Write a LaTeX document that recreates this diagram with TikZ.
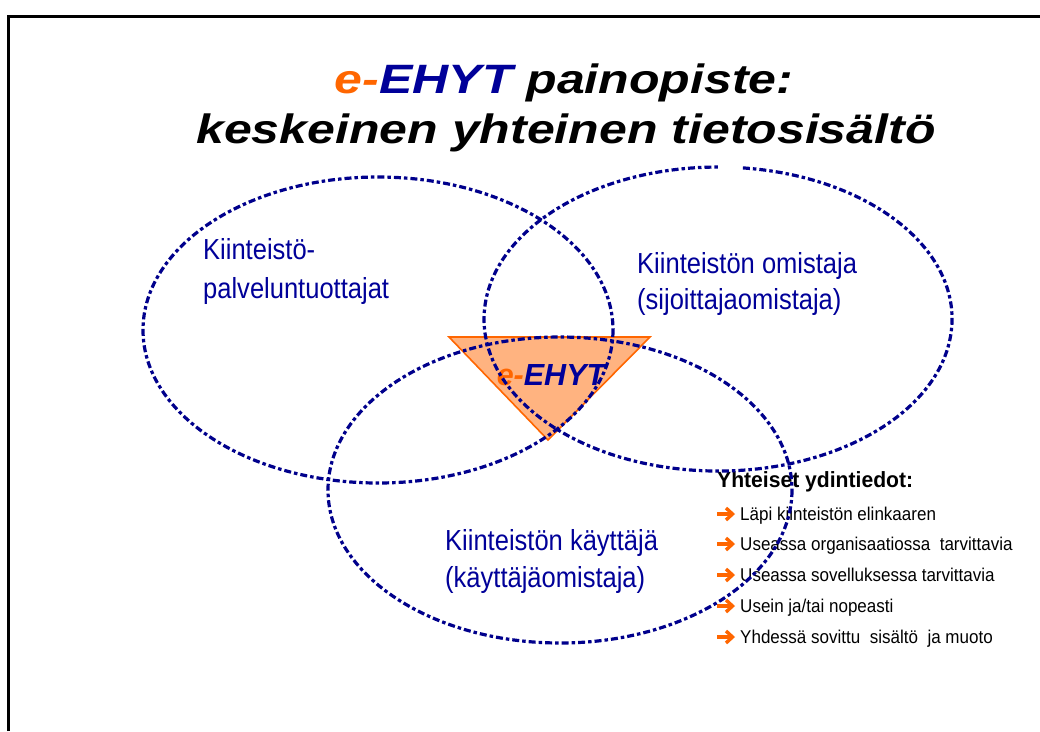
\documentclass[tikz,border=0pt]{standalone}
\usepackage{fontspec}
\setmainfont{Liberation Sans}
\newfontfamily\titlef[FakeStretch=1.22]{Liberation Sans}
\newfontfamily\narrowf[FakeStretch=0.88]{Liberation Sans}
\newfontfamily\bulletf[FakeStretch=0.92]{Liberation Sans}
\newfontfamily\headf[FakeStretch=0.96]{Liberation Sans}
\definecolor{eorange}{RGB}{255,102,0}
\definecolor{eblue}{RGB}{0,0,153}
\definecolor{navyline}{RGB}{0,0,140}
\definecolor{trifill}{RGB}{255,179,128}
\tikzset{
  venn/.style={draw=navyline, line width=3.2pt, dash pattern=on 7pt off 3pt on 3.5pt off 3pt},
  lbl/.style={anchor=base west, inner sep=0pt, text=eblue, font=\narrowf\fontsize{29}{35}\selectfont},
  ttl/.style={anchor=base, inner sep=0pt, font=\titlef\bfseries\itshape\fontsize{41}{48}\selectfont},
  bul/.style={anchor=base west, inner sep=0pt, font=\bulletf\fontsize{18.5}{22}\selectfont},
  bularr/.pic={
    \draw[eorange, line width=3.4pt] (0,0) -- (14,0);
    \draw[eorange, line width=3.4pt, line join=miter, miter limit=4] (9,-6) -- (15.5,0) -- (9,6);
  },
}
\begin{document}
\begin{tikzpicture}[x=1pt,y=-1pt]
\useasboundingbox[fill=white] (0,0) rectangle (1040,731);
% frame
\draw[line width=3pt] (8.5,731) -- (8.5,16.5) -- (1040,16.5);
% title
\node[ttl] (title1) at (564,93) {\textcolor{eorange}{e-}\textcolor{eblue}{EHYT} painopiste:};
\node[ttl] (title2) at (566,143) {keskeinen yhteinen tietosisältö};
% triangle
\coordinate (tl) at (449,337);
\coordinate (tr) at (650,337);
\coordinate (tb) at (548,440);
\fill[trifill] (tl) -- (tr) -- (tb) -- cycle;
\draw[eorange, line width=1.6pt, line join=miter] (tl) -- (tr) -- (tb) -- cycle;
\node[anchor=base, inner sep=0pt, font=\bfseries\itshape\fontsize{30.5}{36}\selectfont] (core) at (551,385) {\textcolor{eorange}{e-}\textcolor{eblue}{EHYT}};
% labels
\node[lbl] (l1a) at (203,259) {Kiinteistö-};
\node[lbl] (l1b) at (203,298) {palveluntuottajat};
\node[lbl] (l2a) at (637,273) {Kiinteistön omistaja};
\node[lbl] (l2b) at (637,309) {(sijoittajaomistaja)};
\node[lbl] (l3a) at (445,550) {Kiinteistön käyttäjä};
\node[lbl] (l3b) at (445,587) {(käyttäjäomistaja)};
% list
\node[anchor=base west, inner sep=0pt, font=\headf\bfseries\fontsize{22}{26}\selectfont] (yht) at (717,487) {Yhteiset ydintiedot:};
\pic at (717,514) {bularr};
\node[bul] (b1) at (740,520) {Läpi kiinteistön elinkaaren};
\pic at (717,544) {bularr};
\node[bul] (b2) at (740,550) {Useassa organisaatiossa\ \ tarvittavia};
\pic at (717,575) {bularr};
\node[bul] (b3) at (740,581) {Useassa sovelluksessa tarvittavia};
\pic at (717,606) {bularr};
\node[bul] (b4) at (740,612) {Usein ja/tai nopeasti};
\pic at (717,637) {bularr};
\node[bul] (b5) at (740,643) {Yhdessä sovittu\ \ sisältö\ \ ja muoto};
% ellipses
\draw[venn] (378,330) ellipse[x radius=235, y radius=153];
\draw[venn] (560,490) ellipse[x radius=232, y radius=153];
\draw[venn] (742.9,167.9) arc[start angle=276.1, end angle=630, x radius=234, y radius=152];
\end{tikzpicture}
\end{document}
